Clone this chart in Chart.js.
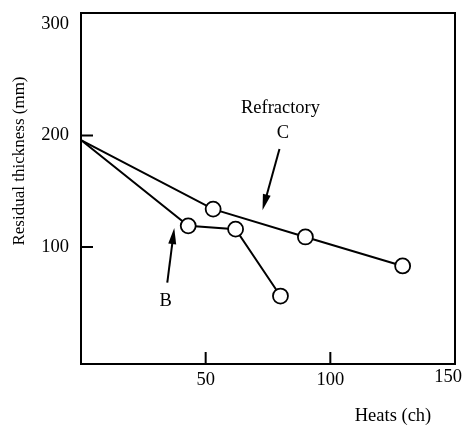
<!DOCTYPE html>
<html>
<head>
<meta charset="utf-8">
<script src="https://cdn.jsdelivr.net/npm/chart.js@4/dist/chart.umd.min.js"></script>
<style>
  body { margin: 0; background: #fff; }
  #wrap { width: 465px; height: 425px; }
</style>
</head>
<body>
<div id="wrap"><canvas id="chart" width="465" height="425"></canvas></div>
<script>
// Datos
const heatsC = [0, 53, 90, 129];
const thicknessC = [196, 134, 109, 83];
const heatsB = [0, 43, 62, 80];
const thicknessB = [196, 119, 116, 56];

const xTicks = [50, 100, 150];
const yTicks = [100, 200, 300];
const xInnerTicks = [50, 100];
const yInnerTicks = [100, 200];
const xLastTick = 150;

const serif = "'Liberation Serif', 'DejaVu Serif', serif";

function toPoints(xs, ys) {
    return xs.map((x, i) => ({ x: x, y: ys[i] }));
}

function drawArrow(ctx, x1, y1, x2, y2) {
    const ang = Math.atan2(y2 - y1, x2 - x1);
    const len = 16, half = 4;
    ctx.beginPath();
    ctx.moveTo(x1, y1);
    ctx.lineTo(x2 - Math.cos(ang) * len * 0.8, y2 - Math.sin(ang) * len * 0.8);
    ctx.stroke();
    ctx.beginPath();
    ctx.moveTo(x2, y2);
    ctx.lineTo(x2 - Math.cos(ang) * len + Math.sin(ang) * half, y2 - Math.sin(ang) * len - Math.cos(ang) * half);
    ctx.lineTo(x2 - Math.cos(ang) * len - Math.sin(ang) * half, y2 - Math.sin(ang) * len + Math.cos(ang) * half);
    ctx.closePath();
    ctx.fill();
}

// Caja, marcas internas, flechas y textos
const decoraciones = {
    id: 'decoraciones',
    beforeDatasetsDraw(chart) {
        const { ctx, chartArea: a, scales: { x, y } } = chart;
        ctx.save();
        ctx.strokeStyle = '#000';
        ctx.lineWidth = 2;
        ctx.strokeRect(a.left, a.top, a.right - a.left, a.bottom - a.top);
        ctx.beginPath();
        xInnerTicks.forEach(v => {
            const px = x.getPixelForValue(v);
            ctx.moveTo(px, a.bottom);
            ctx.lineTo(px, a.bottom - 12);
        });
        yInnerTicks.forEach(v => {
            const py = y.getPixelForValue(v);
            ctx.moveTo(a.left, py);
            ctx.lineTo(a.left + 12, py);
        });
        ctx.stroke();
        ctx.restore();
    },
    afterDraw(chart) {
        const { ctx, chartArea: a, scales: { x, y } } = chart;
        ctx.save();
        ctx.fillStyle = '#000';
        ctx.strokeStyle = '#000';
        ctx.lineWidth = 2;
        ctx.font = '18.5px ' + serif;
        ctx.textAlign = 'center';
        ctx.textBaseline = 'middle';

        // la etiqueta 150 queda pegada al borde derecho
        ctx.textAlign = 'right';
        ctx.fillText(String(xLastTick), x.getPixelForValue(xLastTick) + 7, a.bottom + 13);
        ctx.textAlign = 'center';

        ctx.fillText('Refractory', x.getPixelForValue(80), y.getPixelForValue(225));
        ctx.fillText('C', x.getPixelForValue(81), y.getPixelForValue(202));
        ctx.fillText('B', x.getPixelForValue(34), y.getPixelForValue(51));

        drawArrow(ctx, x.getPixelForValue(79.6), y.getPixelForValue(188),
                       x.getPixelForValue(72.8), y.getPixelForValue(133));
        drawArrow(ctx, x.getPixelForValue(34.6), y.getPixelForValue(68),
                       x.getPixelForValue(37.4), y.getPixelForValue(117));

        // titulos de ejes
        ctx.fillText('Heats (ch)', 393, 416);
        ctx.font = '17px ' + serif;
        ctx.translate(20, 161);
        ctx.rotate(-Math.PI / 2);
        ctx.fillText('Residual thickness (mm)', 0, 0);
        ctx.restore();
    }
};

const serieEstilo = {
    showLine: true,
    borderColor: '#000',
    borderWidth: 2,
    pointBackgroundColor: '#fff',
    pointBorderColor: '#000',
    pointBorderWidth: 1.8,
    pointRadius: [0, 7.5, 7.5, 7.5],
    pointHoverRadius: [0, 7.5, 7.5, 7.5]
};

new Chart(document.getElementById('chart').getContext('2d'), {
    type: 'scatter',
    data: {
        datasets: [
            Object.assign({ label: 'C', data: toPoints(heatsC, thicknessC) }, serieEstilo),
            Object.assign({ label: 'B', data: toPoints(heatsB, thicknessB) }, serieEstilo)
        ]
    },
    options: {
        responsive: false,
        animation: false,
        layout: { padding: { top: 13, right: 10, left: 0, bottom: 0 } },
        plugins: {
            legend: { display: false },
            tooltip: { enabled: false }
        },
        scales: {
            x: {
                type: 'linear',
                min: 0,
                max: 150,
                afterBuildTicks: scale => { scale.ticks = xTicks.map(v => ({ value: v })); },
                afterFit: scale => {
                    scale.height = 61;
                    scale.paddingRight = 0;
                    scale.paddingLeft = 0;
                },
                grid: { display: false, drawTicks: false },
                border: { display: false },
                ticks: {
                    color: '#000',
                    padding: 5,
                    maxRotation: 0,
                    font: { family: serif, size: 18.5 },
                    callback: v => (v === xLastTick ? '' : v)
                }
            },
            y: {
                type: 'linear',
                min: -5,
                max: 310,
                afterBuildTicks: scale => { scale.ticks = yTicks.map(v => ({ value: v })); },
                afterFit: scale => {
                    scale.width = 81;
                    scale.paddingTop = 0;
                    scale.paddingBottom = 0;
                },
                grid: { display: false, drawTicks: false },
                border: { display: false },
                ticks: {
                    color: '#000',
                    padding: 12,
                    font: { family: serif, size: 18.5 }
                }
            }
        }
    },
    plugins: [decoraciones]
});
</script>
</body>
</html>
